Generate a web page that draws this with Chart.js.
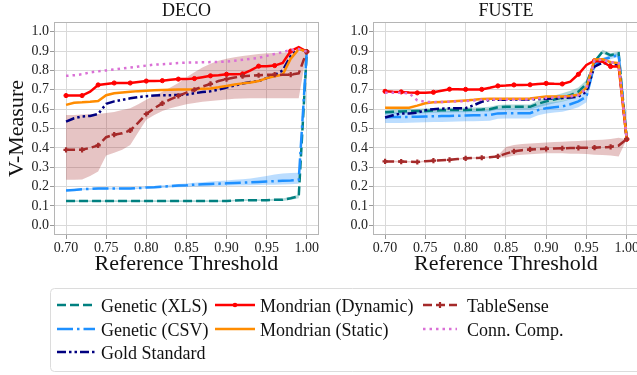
<!DOCTYPE html>
<html>
<head>
<meta charset="utf-8">
<script src="https://cdn.jsdelivr.net/npm/chart.js@4.4.1/dist/chart.umd.min.js"></script>
<style>
  html, body { margin: 0; padding: 0; background: #fff; overflow: hidden; }
  body { width: 637px; height: 375px; position: relative; }
  #deco { position: absolute; left: 0; top: 0; }
  #fuste { position: absolute; left: 325px; top: 0; }
  #legend { position: absolute; left: 50px; top: 288px; }
</style>
</head>
<body>
<canvas id="deco" width="325" height="282"></canvas>
<canvas id="fuste" width="320" height="282"></canvas>
<canvas id="legend" width="600" height="85"></canvas>
<script>
// reference threshold (x) and tick labels
const thresholds = [0.70, 0.71, 0.72, 0.73, 0.74, 0.75, 0.76, 0.77, 0.78, 0.79, 0.80,
                    0.81, 0.82, 0.83, 0.84, 0.85, 0.86, 0.87, 0.88, 0.89, 0.90,
                    0.91, 0.92, 0.93, 0.94, 0.95, 0.96, 0.97, 0.98, 0.99, 1.00];
const xTicks = [0.70, 0.75, 0.80, 0.85, 0.90, 0.95, 1.00];
const yTicks = [0.0, 0.1, 0.2, 0.3, 0.4, 0.5, 0.6, 0.7, 0.8, 0.9, 1.0];

// ---- DECO ----
const decoXls = [0.125, 0.125, 0.125, 0.125, 0.125, 0.125, 0.125, 0.125, 0.125, 0.125, 0.125,
                 0.125, 0.125, 0.125, 0.125, 0.125, 0.125, 0.125, 0.125, 0.125, 0.125,
                 0.128, 0.13, 0.13, 0.13, 0.13, 0.132, 0.132, 0.14, 0.15, 0.897];
const decoXlsLow = [0.121, 0.121, 0.121, 0.121, 0.121, 0.121, 0.121, 0.121, 0.121, 0.121, 0.121,
                    0.121, 0.121, 0.121, 0.121, 0.121, 0.121, 0.121, 0.121, 0.121, 0.121,
                    0.124, 0.126, 0.126, 0.126, 0.126, 0.127, 0.126, 0.132, 0.14, 0.897];
const decoXlsHigh = [0.129, 0.129, 0.129, 0.129, 0.129, 0.129, 0.129, 0.129, 0.129, 0.129, 0.129,
                     0.129, 0.129, 0.129, 0.129, 0.129, 0.129, 0.129, 0.129, 0.129, 0.129,
                     0.132, 0.134, 0.134, 0.134, 0.134, 0.137, 0.138, 0.148, 0.158, 0.897];
const decoCsv = [0.18, 0.183, 0.186, 0.188, 0.19, 0.19, 0.19, 0.19, 0.19, 0.192, 0.195,
                 0.197, 0.2, 0.202, 0.205, 0.207, 0.21, 0.212, 0.214, 0.215, 0.217,
                 0.219, 0.22, 0.222, 0.224, 0.226, 0.228, 0.23, 0.232, 0.235, 0.897];
const decoCsvLow = [0.175, 0.178, 0.181, 0.183, 0.185, 0.185, 0.185, 0.185, 0.185, 0.187, 0.19,
                    0.191, 0.193, 0.195, 0.197, 0.198, 0.2, 0.201, 0.202, 0.203, 0.204,
                    0.205, 0.206, 0.207, 0.208, 0.209, 0.21, 0.211, 0.212, 0.215, 0.897];
const decoCsvHigh = [0.185, 0.188, 0.191, 0.193, 0.195, 0.195, 0.195, 0.195, 0.195, 0.197, 0.2,
                     0.203, 0.207, 0.21, 0.213, 0.216, 0.22, 0.223, 0.226, 0.229, 0.232,
                     0.235, 0.238, 0.242, 0.248, 0.255, 0.262, 0.268, 0.27, 0.272, 0.897];
const decoGold = [0.535, 0.553, 0.562, 0.565, 0.575, 0.627, 0.64, 0.648, 0.656, 0.662, 0.667,
                  0.67, 0.672, 0.672, 0.673, 0.675, 0.682, 0.688, 0.692, 0.7, 0.712,
                  0.722, 0.732, 0.74, 0.745, 0.76, 0.775, 0.8, 0.875, 0.914, 0.897];
const decoDynamic = [0.67, 0.67, 0.67, 0.69, 0.725, 0.73, 0.735, 0.735, 0.735, 0.74, 0.745,
                     0.745, 0.747, 0.752, 0.755, 0.755, 0.758, 0.765, 0.772, 0.775, 0.78,
                     0.78, 0.782, 0.8, 0.822, 0.822, 0.825, 0.838, 0.9, 0.92, 0.897];
const decoStatic = [0.622, 0.633, 0.635, 0.638, 0.642, 0.672, 0.682, 0.686, 0.69, 0.693, 0.695,
                    0.697, 0.699, 0.7, 0.701, 0.702, 0.703, 0.705, 0.707, 0.713, 0.72,
                    0.727, 0.733, 0.738, 0.745, 0.76, 0.77, 0.778, 0.86, 0.91, 0.897];
const decoTable = [0.39, 0.39, 0.39, 0.4, 0.413, 0.455, 0.468, 0.475, 0.49, 0.53, 0.575,
                   0.605, 0.63, 0.65, 0.668, 0.685, 0.7, 0.717, 0.73, 0.745, 0.755,
                   0.763, 0.77, 0.772, 0.775, 0.777, 0.778, 0.778, 0.778, 0.785, 0.897];
const decoTableLow = [0.235, 0.235, 0.237, 0.255, 0.278, 0.36, 0.375, 0.39, 0.415, 0.48, 0.545,
                      0.57, 0.59, 0.605, 0.615, 0.625, 0.632, 0.638, 0.642, 0.646, 0.65,
                      0.653, 0.655, 0.656, 0.656, 0.656, 0.656, 0.656, 0.656, 0.656, 0.897];
const decoTableHigh = [0.57, 0.57, 0.572, 0.573, 0.575, 0.58, 0.585, 0.595, 0.605, 0.625, 0.648,
                       0.67, 0.69, 0.712, 0.735, 0.765, 0.79, 0.815, 0.835, 0.85, 0.86,
                       0.868, 0.875, 0.88, 0.885, 0.888, 0.89, 0.892, 0.893, 0.895, 0.897];
const decoConn = [0.772, 0.775, 0.78, 0.79, 0.795, 0.8, 0.805, 0.81, 0.815, 0.82, 0.825,
                  0.83, 0.832, 0.835, 0.838, 0.84, 0.841, 0.842, 0.843, 0.844, 0.845,
                  0.85, 0.855, 0.86, 0.865, 0.875, 0.885, 0.895, 0.905, 0.91, 0.897];

// ---- FUSTE ----
const fusteXls = [0.584, 0.586, 0.588, 0.589, 0.59, 0.591, 0.593, 0.594, 0.595, 0.596, 0.596,
                  0.597, 0.598, 0.6, 0.61, 0.612, 0.612, 0.612, 0.612, 0.628, 0.64,
                  0.65, 0.66, 0.672, 0.69, 0.73, 0.845, 0.897, 0.878, 0.888, 0.445];
const fusteXlsLow = [0.572, 0.574, 0.576, 0.577, 0.578, 0.579, 0.581, 0.582, 0.583, 0.584, 0.584,
                     0.585, 0.586, 0.588, 0.598, 0.6, 0.6, 0.6, 0.6, 0.61, 0.62,
                     0.63, 0.638, 0.65, 0.668, 0.71, 0.835, 0.887, 0.868, 0.878, 0.445];
const fusteXlsHigh = [0.596, 0.598, 0.6, 0.601, 0.602, 0.603, 0.605, 0.606, 0.607, 0.608, 0.608,
                      0.609, 0.61, 0.612, 0.622, 0.624, 0.624, 0.624, 0.624, 0.645, 0.66,
                      0.67, 0.682, 0.695, 0.712, 0.75, 0.855, 0.907, 0.888, 0.898, 0.445];
const fusteCsv = [0.558, 0.559, 0.559, 0.56, 0.561, 0.562, 0.563, 0.564, 0.565, 0.566, 0.567,
                  0.568, 0.569, 0.57, 0.578, 0.579, 0.579, 0.579, 0.579, 0.595, 0.605,
                  0.61, 0.614, 0.625, 0.64, 0.665, 0.83, 0.855, 0.868, 0.88, 0.445];
const fusteCsvLow = [0.528, 0.529, 0.529, 0.53, 0.531, 0.532, 0.533, 0.534, 0.535, 0.536, 0.537,
                     0.538, 0.539, 0.54, 0.55, 0.551, 0.551, 0.551, 0.551, 0.568, 0.578,
                     0.583, 0.587, 0.597, 0.61, 0.635, 0.815, 0.845, 0.858, 0.87, 0.445];
const fusteCsvHigh = [0.583, 0.584, 0.584, 0.585, 0.586, 0.587, 0.588, 0.589, 0.59, 0.591, 0.592,
                      0.593, 0.594, 0.595, 0.603, 0.604, 0.604, 0.604, 0.604, 0.62, 0.632,
                      0.637, 0.641, 0.653, 0.67, 0.695, 0.845, 0.865, 0.878, 0.89, 0.445];
const fusteGold = [0.557, 0.568, 0.578, 0.578, 0.582, 0.595, 0.6, 0.602, 0.604, 0.605, 0.605,
                   0.62, 0.638, 0.648, 0.648, 0.649, 0.65, 0.65, 0.65, 0.652, 0.653,
                   0.655, 0.657, 0.66, 0.665, 0.69, 0.82, 0.84, 0.83, 0.832, 0.445];
const fusteDynamic = [0.692, 0.69, 0.689, 0.686, 0.684, 0.685, 0.687, 0.695, 0.703, 0.703, 0.702,
                      0.702, 0.702, 0.71, 0.72, 0.722, 0.725, 0.725, 0.726, 0.73, 0.733,
                      0.731, 0.73, 0.742, 0.78, 0.828, 0.85, 0.845, 0.82, 0.82, 0.445];
const fusteStatic = [0.607, 0.607, 0.607, 0.607, 0.618, 0.63, 0.635, 0.637, 0.639, 0.642, 0.645,
                     0.648, 0.652, 0.653, 0.653, 0.653, 0.653, 0.654, 0.655, 0.66, 0.665,
                     0.665, 0.665, 0.668, 0.675, 0.71, 0.857, 0.858, 0.842, 0.838, 0.445];
const fusteTable = [0.33, 0.33, 0.329, 0.328, 0.327, 0.331, 0.334, 0.336, 0.338, 0.342, 0.346,
                    0.348, 0.349, 0.352, 0.356, 0.37, 0.382, 0.388, 0.392, 0.394, 0.395,
                    0.397, 0.398, 0.399, 0.4, 0.4, 0.401, 0.403, 0.405, 0.412, 0.445];
const fusteTableLow = [0.326, 0.326, 0.325, 0.324, 0.323, 0.327, 0.33, 0.332, 0.334, 0.338, 0.342,
                       0.344, 0.345, 0.348, 0.352, 0.35, 0.36, 0.365, 0.367, 0.37, 0.372,
                       0.372, 0.372, 0.37, 0.37, 0.368, 0.365, 0.363, 0.36, 0.356, 0.445];
const fusteTableHigh = [0.334, 0.334, 0.333, 0.332, 0.331, 0.335, 0.338, 0.34, 0.342, 0.346, 0.35,
                        0.352, 0.353, 0.356, 0.36, 0.405, 0.415, 0.42, 0.423, 0.425, 0.428,
                        0.43, 0.432, 0.434, 0.436, 0.438, 0.44, 0.442, 0.446, 0.452, 0.445];
const fusteConn = [0.684, 0.684, 0.684, 0.682, 0.645, 0.638, 0.636, 0.637, 0.638, 0.64, 0.642,
                   0.645, 0.648, 0.649, 0.65, 0.65, 0.65, 0.65, 0.651, 0.655, 0.658,
                   0.66, 0.662, 0.665, 0.672, 0.705, 0.852, 0.855, 0.842, 0.838, 0.445];

// line styles
const styles = {
    xls:     { label: 'Genetic (XLS)', color: '#008080', dash: [9, 4] },
    csv:     { label: 'Genetic (CSV)', color: '#1e90ff', dash: [16, 4, 2.5, 4] },
    gold:    { label: 'Gold Standard', color: '#000080', dash: [9, 3, 2.5, 3, 2.5, 3] },
    dynamic: { label: 'Mondrian (Dynamic)', color: '#ff0000', dash: [], marker: 'circle', size: 2.1 },
    static:  { label: 'Mondrian (Static)', color: '#ff8c00', dash: [] },
    table:   { label: 'TableSense', color: '#a52a2a', dash: [9, 4], marker: 'cross', size: 2.6 },
    conn:    { label: 'Conn. Comp.', color: '#da70d6', dash: [2.5, 4] }
};

const FONT = "'Liberation Serif', 'DejaVu Serif', serif";

function pts(values) {
    return values.map((y, i) => ({ x: thresholds[i], y: y }));
}

function line(values, s) {
    return {
        label: s.label,
        data: pts(values),
        borderColor: s.color,
        backgroundColor: s.color,
        borderWidth: 2.5,
        borderDash: s.dash,
        fill: false,
        tension: 0,
        pointStyle: s.marker || 'circle',
        pointRadius: s.marker ? (c => c.dataIndex % 2 === 0 ? s.size : 0) : 0,
        pointBorderWidth: s.marker === 'cross' ? 2.2 : 1,
        pointBackgroundColor: s.color,
        pointBorderColor: s.color
    };
}

function band(low, high, color) {
    return [
        { data: pts(low), borderWidth: 0, borderColor: 'rgba(0,0,0,0)', pointRadius: 0, fill: false },
        { data: pts(high), borderWidth: 0, borderColor: 'rgba(0,0,0,0)', pointRadius: 0, fill: '-1', backgroundColor: color }
    ];
}

// draws the full box around the plot area
const frame = {
    id: 'frame',
    beforeDatasetsDraw(chart) {
        const a = chart.chartArea;
        const ctx = chart.ctx;
        ctx.save();
        ctx.strokeStyle = '#b5b5b5';
        ctx.lineWidth = 1;
        ctx.strokeRect(Math.round(a.left) + 0.5, Math.round(a.top) + 0.5,
                       Math.round(a.right - a.left) - 1, Math.round(a.bottom - a.top) - 1);
        ctx.restore();
    }
};

function makeChart(id, title, d, yWidth, padRight, showYTitle) {
    const datasets = [
        line(d.conn, styles.conn),
        line(d.table, styles.table),
        line(d.static, styles.static),
        line(d.dynamic, styles.dynamic),
        line(d.gold, styles.gold),
        line(d.csv, styles.csv),
        line(d.xls, styles.xls),
        ...band(d.tableLow, d.tableHigh, 'rgba(165, 42, 42, 0.28)'),
        ...band(d.csvLow, d.csvHigh, 'rgba(30, 144, 255, 0.3)'),
        ...band(d.xlsLow, d.xlsHigh, 'rgba(0, 128, 128, 0.3)')
    ];
    return new Chart(document.getElementById(id), {
        type: 'line',
        data: { datasets },
        plugins: [frame],
        options: {
            responsive: false,
            animation: false,
            events: [],
            devicePixelRatio: 1,
            layout: { padding: { left: 0, right: padRight, top: 0, bottom: 0 } },
            plugins: {
                legend: { display: false },
                tooltip: { enabled: false },
                title: {
                    display: true,
                    text: title,
                    fullSize: false,
                    color: '#111',
                    font: { family: FONT, size: 18, weight: 'normal', lineHeight: 1 },
                    padding: { top: 2, bottom: 2 }
                }
            },
            scales: {
                x: {
                    type: 'linear',
                    min: 0.685,
                    max: 1.015,
                    afterBuildTicks: s => { s.ticks = xTicks.map(v => ({ value: v })); },
                    afterFit: s => { s.height = 47; },
                    border: { display: false },
                    grid: { color: '#d9d9d9', tickColor: '#9a9a9a', tickLength: 4 },
                    ticks: {
                        autoSkip: false, maxRotation: 0, minRotation: 0, padding: 1,
                        color: '#222', font: { family: FONT, size: 14 },
                        callback: v => v.toFixed(2)
                    },
                    title: {
                        display: true, text: 'Reference Threshold', color: '#111',
                        font: { family: FONT, size: 22 },
                        padding: { top: 0, bottom: 5 }
                    }
                },
                y: {
                    type: 'linear',
                    min: -0.05,
                    max: 1.05,
                    afterBuildTicks: s => { s.ticks = yTicks.map(v => ({ value: v })); },
                    afterFit: s => { s.width = yWidth; },
                    border: { display: false },
                    grid: { color: '#d9d9d9', tickColor: '#9a9a9a', tickLength: 4 },
                    ticks: {
                        autoSkip: false, padding: 1,
                        color: '#222', font: { family: FONT, size: 14 },
                        callback: v => v.toFixed(1)
                    },
                    title: {
                        display: showYTitle, text: 'V-Measure', color: '#111',
                        font: { family: FONT, size: 22 },
                        padding: { top: 4, bottom: 0 }
                    }
                }
            }
        }
    });
}

makeChart('deco', 'DECO', {
    xls: decoXls, xlsLow: decoXlsLow, xlsHigh: decoXlsHigh,
    csv: decoCsv, csvLow: decoCsvLow, csvHigh: decoCsvHigh,
    gold: decoGold, dynamic: decoDynamic, static: decoStatic,
    table: decoTable, tableLow: decoTableLow, tableHigh: decoTableHigh,
    conn: decoConn
}, 54, 4, true);

makeChart('fuste', 'FUSTE', {
    xls: fusteXls, xlsLow: fusteXlsLow, xlsHigh: fusteXlsHigh,
    csv: fusteCsv, csvLow: fusteCsvLow, csvHigh: fusteCsvHigh,
    gold: fusteGold, dynamic: fusteDynamic, static: fusteStatic,
    table: fusteTable, tableLow: fusteTableLow, tableHigh: fusteTableHigh,
    conn: fusteConn
}, 48, 5, false);

// shared legend (3 columns, filled column by column like the original)
const legendItems = [
    { s: styles.xls, col: 0, row: 0 },
    { s: styles.csv, col: 0, row: 1 },
    { s: styles.gold, col: 0, row: 2 },
    { s: styles.dynamic, col: 1, row: 0 },
    { s: styles.static, col: 1, row: 1 },
    { s: styles.table, col: 2, row: 0 },
    { s: styles.conn, col: 2, row: 1 }
];
const colSample = [[7, 45], [165, 205], [373, 407]];
const colText = [51, 210, 417];
const rowLine = [17, 41, 64];
const rowText = [19, 43, 66];

const lg = document.getElementById('legend').getContext('2d');
lg.strokeStyle = '#dcdcdc';
lg.lineWidth = 1;
lg.beginPath();
lg.roundRect(0.5, 0.5, 620, 83, 4);
lg.stroke();

lg.font = "18px " + FONT;
lg.textBaseline = 'middle';
legendItems.forEach(it => {
    const s = it.s;
    const [x0, x1] = colSample[it.col];
    const y = rowLine[it.row];
    lg.save();
    lg.strokeStyle = s.color;
    lg.lineWidth = 2.5;
    lg.setLineDash(s.dash);
    lg.beginPath();
    lg.moveTo(x0, y);
    lg.lineTo(x1, y);
    lg.stroke();
    lg.setLineDash([]);
    const cx = (x0 + x1) / 2;
    if (s.marker === 'circle') {
        lg.fillStyle = s.color;
        lg.beginPath();
        lg.arc(cx, y, 2.3, 0, Math.PI * 2);
        lg.fill();
    } else if (s.marker === 'cross') {
        lg.lineWidth = 2.2;
        lg.beginPath();
        lg.moveTo(cx - 3, y); lg.lineTo(cx + 3, y);
        lg.moveTo(cx, y - 3); lg.lineTo(cx, y + 3);
        lg.stroke();
    }
    lg.restore();
    lg.fillStyle = '#111';
    lg.fillText(s.label, colText[it.col], rowText[it.row]);
});
</script>
</body>
</html>
